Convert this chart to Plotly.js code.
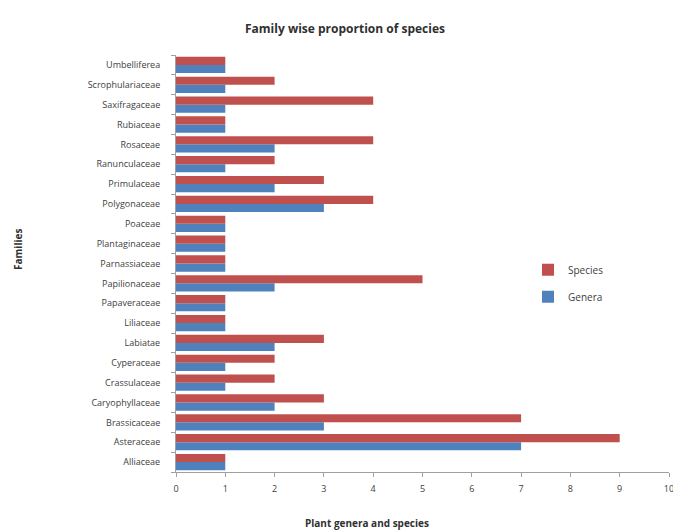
<!DOCTYPE html>
<html>
<head>
<meta charset="utf-8">
<script src="https://cdn.plot.ly/plotly-3.0.1.min.js"></script>
<style>html,body{margin:0;padding:0;background:#fff;}#chart{width:673px;height:532px;}</style>
</head>
<body>
<div id="chart"></div>
<script>
const families = ["Alliaceae","Asteraceae","Brassicaceae","Caryophyllaceae","Crassulaceae","Cyperaceae","Labiatae","Liliaceae","Papaveraceae","Papilionaceae","Parnassiaceae","Plantaginaceae","Poaceae","Polygonaceae","Primulaceae","Ranunculaceae","Rosaceae","Rubiaceae","Saxifragaceae","Scrophulariaceae","Umbelliferea"];
const species = [1,9,7,3,2,2,3,1,1,5,1,1,1,4,3,2,4,1,4,2,1];
const genera  = [1,7,3,2,1,1,2,1,1,2,1,1,1,3,2,1,2,1,1,1,1];
const xTicks = [0,1,2,3,4,5,6,7,8,9,10];

const font = "Open Sans, Liberation Sans, sans-serif";
const traces = [
  {type:"bar", orientation:"h", name:"Genera", y:families, x:genera, marker:{color:"#4F81BD"}, legendgroup:"g", legendrank:2},
  {type:"bar", orientation:"h", name:"Species", y:families, x:species, marker:{color:"#C0504D"}, legendgroup:"s", legendrank:1}
];
const layout = {
  width:673, height:532,
  margin:{l:176, r:4, t:55, b:60},
  paper_bgcolor:"#fff", plot_bgcolor:"#fff",
  font:{family:font, size:9, color:"#404040"},
  barmode:"group", bargap:0.18, bargroupgap:0,
  showlegend:true,
  legend:{x:0.714, y:0.52, xanchor:"left", yanchor:"top", traceorder:"grouped", tracegroupgap:8, font:{size:10, color:"#404040"}, bgcolor:"rgba(0,0,0,0)", itemwidth:30},
  xaxis:{range:[0,10], tickvals:xTicks, showgrid:false, zeroline:false, showline:true, linecolor:"#A0A0A0", ticks:"outside", ticklen:4, tickcolor:"#A0A0A0", tickfont:{size:9, color:"#404040"}, ticklabelstandoff:4, ticklabeloverflow:"allow", automargin:false, fixedrange:true},
  yaxis:{type:"category", showgrid:false, zeroline:false, showline:true, linecolor:"#A0A0A0", ticks:"outside", tickson:"boundaries", ticklen:4, tickcolor:"#A0A0A0", tickfont:{size:9, color:"#404040"}, ticklabelstandoff:13, automargin:false},
  annotations:[
    {text:"<b>Family wise proportion of species</b>", xref:"paper", yref:"paper", x:(345-176)/493, xanchor:"center", y:1, yshift:37, showarrow:false, font:{size:12, color:"#303030"}},
    {text:"<b>Plant genera and species</b>", xref:"paper", yref:"paper", x:(367-176)/493, xanchor:"center", y:0, yshift:-60, showarrow:false, font:{size:10, color:"#303030"}},
    {text:"<b>Families</b>", xref:"paper", yref:"paper", x:0, xshift:-158, xanchor:"center", y:(472-250)/417, textangle:-90, showarrow:false, font:{size:10, color:"#303030"}}
  ]
};
Plotly.newPlot("chart", traces, layout, {displayModeBar:false, staticPlot:true});
</script>
</body>
</html>
